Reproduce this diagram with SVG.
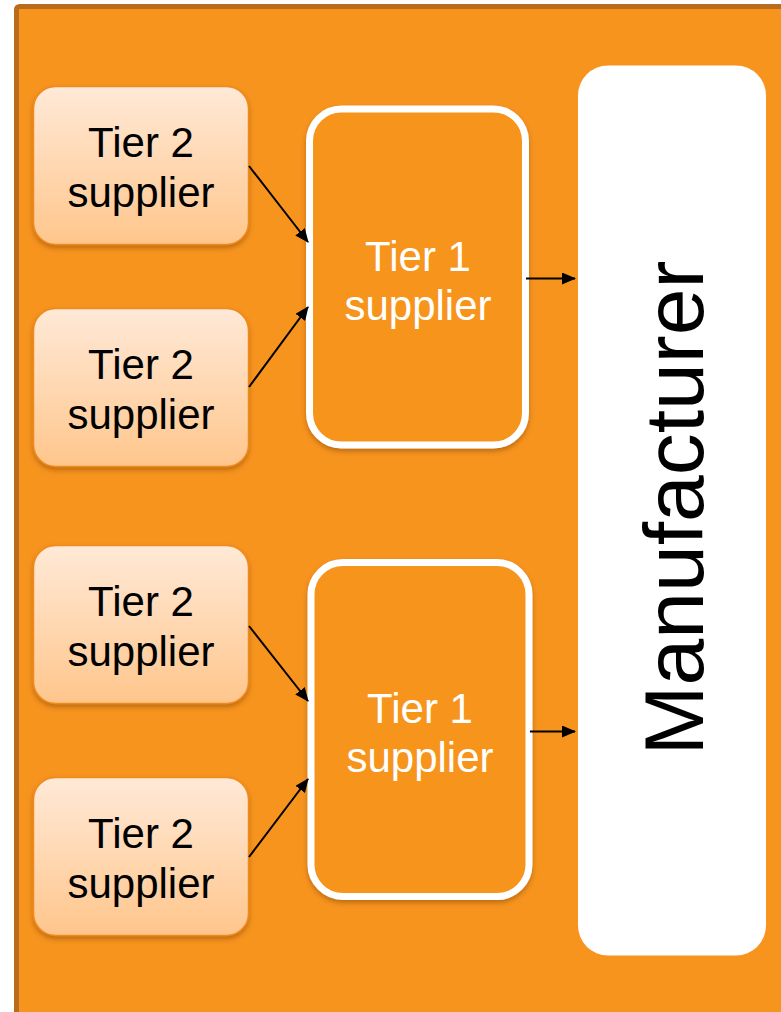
<svg xmlns="http://www.w3.org/2000/svg" width="781" height="1012" viewBox="0 0 781 1012">
  <style>
    .t2 { stroke: #F08A1C; stroke-width: 1.5; fill: url(#t2fill); filter: url(#shadow); }
    .t1 { stroke: #FFFFFF; stroke-width: 7; fill: #F7941E; filter: url(#shadow); }
    .lbl { font-family: "Liberation Sans", Arial, sans-serif; font-size: 42px; text-anchor: middle; }
    .dark { fill: #000000; }
    .light { fill: #FFFFFF; }
    .conn { stroke: #000000; stroke-width: 2; fill: none; marker-end: url(#arrow); }
  </style>
  <defs>
    <linearGradient id="t2fill" x1="0" y1="0" x2="0" y2="1">
      <stop offset="0" stop-color="#FFE9D7"/>
      <stop offset="1" stop-color="#FFC68C"/>
    </linearGradient>
    <filter id="shadow" x="-10%" y="-10%" width="120%" height="125%">
      <feDropShadow dx="0" dy="3" stdDeviation="2.5" flood-color="#7A3E00" flood-opacity="0.45"/>
    </filter>
    <marker id="arrow" viewBox="0 0 14 12" refX="13" refY="6" markerWidth="14" markerHeight="12" markerUnits="userSpaceOnUse" orient="auto">
      <path d="M0,0 L14,6 L0,12 Z" fill="#000000"/>
    </marker>
  </defs>

  <!-- background panel -->
  <rect x="16.5" y="6.5" width="800" height="1100" rx="3" fill="#F7941E" stroke="#B86C1C" stroke-width="5"/>

  <!-- manufacturer -->
  <g id="manufacturer">
    <rect x="578" y="65.5" width="188" height="890" rx="30" fill="#FFFFFF"/>
    <text transform="translate(703,508) rotate(-90)" font-family="Liberation Sans, Arial, sans-serif" font-size="84" text-anchor="middle" fill="#000000">Manufacturer</text>
  </g>

  <!-- tier 2 suppliers -->
  <g id="tier2-a">
    <rect class="t2" x="33.5" y="86.5" width="215" height="158" rx="22"/>
    <text class="lbl dark" x="141" y="157">Tier 2</text>
    <text class="lbl dark" x="141" y="207">supplier</text>
  </g>
  <g id="tier2-b">
    <rect class="t2" x="33.5" y="308.5" width="215" height="158" rx="22"/>
    <text class="lbl dark" x="141" y="379">Tier 2</text>
    <text class="lbl dark" x="141" y="429">supplier</text>
  </g>
  <g id="tier2-c">
    <rect class="t2" x="33.5" y="545.5" width="215" height="158" rx="22"/>
    <text class="lbl dark" x="141" y="616">Tier 2</text>
    <text class="lbl dark" x="141" y="666">supplier</text>
  </g>
  <g id="tier2-d">
    <rect class="t2" x="33.5" y="777.5" width="215" height="158" rx="22"/>
    <text class="lbl dark" x="141" y="848">Tier 2</text>
    <text class="lbl dark" x="141" y="898">supplier</text>
  </g>

  <!-- tier 1 suppliers -->
  <g id="tier1-a">
    <rect class="t1" x="309.5" y="109" width="216" height="336" rx="32"/>
    <text class="lbl light" x="418" y="271">Tier 1</text>
    <text class="lbl light" x="418" y="320">supplier</text>
  </g>
  <g id="tier1-b">
    <rect class="t1" x="311" y="562.5" width="218" height="334" rx="32"/>
    <text class="lbl light" x="420" y="723">Tier 1</text>
    <text class="lbl light" x="420" y="772">supplier</text>
  </g>

  <!-- connectors -->
  <g id="connectors">
    <line class="conn" x1="249" y1="166" x2="308" y2="242"/>
    <line class="conn" x1="249" y1="387" x2="308" y2="307"/>
    <line class="conn" x1="526" y1="278.5" x2="575" y2="278.5"/>
    <line class="conn" x1="249" y1="626" x2="308" y2="701"/>
    <line class="conn" x1="249" y1="857" x2="308" y2="779"/>
    <line class="conn" x1="530" y1="731.5" x2="575" y2="731.5"/>
  </g>
</svg>
